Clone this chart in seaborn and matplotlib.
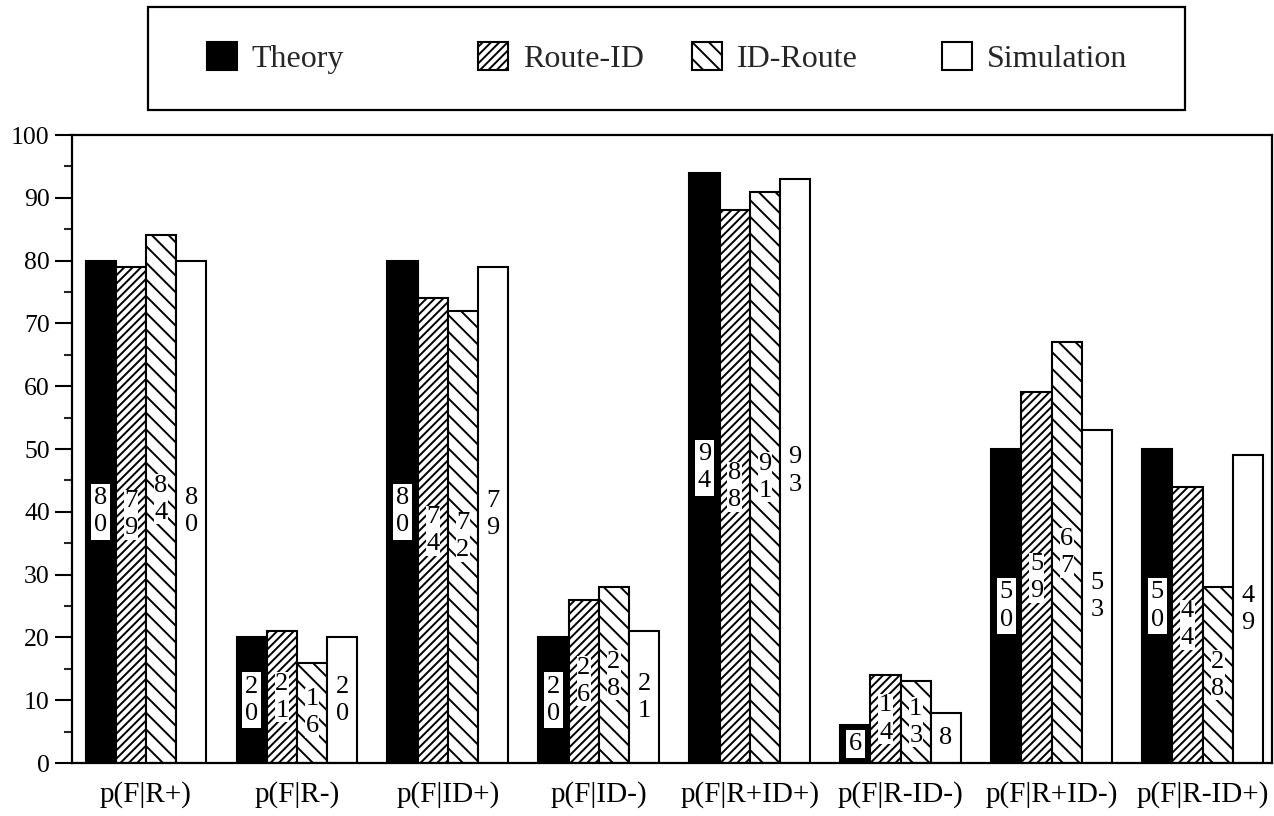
import numpy as np
import pandas as pd
import matplotlib
matplotlib.use("Agg")
import matplotlib.pyplot as plt
import matplotlib.patches as mpatches
import seaborn as sns

# ---- data ----
categories = ["p(F|R+)", "p(F|R-)", "p(F|ID+)", "p(F|ID-)",
              "p(F|R+ID+)", "p(F|R-ID-)", "p(F|R+ID-)", "p(F|R-ID+)"]
methods = ["Theory", "Route-ID", "ID-Route", "Simulation"]
theory = [80, 20, 80, 20, 94, 6, 50, 50]
route_id = [79, 21, 74, 26, 88, 14, 59, 44]
id_route = [84, 16, 72, 28, 91, 13, 67, 28]
simulation = [80, 20, 79, 21, 93, 8, 53, 49]
y_ticks = list(range(0, 101, 10))

df = pd.DataFrame({
    "condition": categories * 4,
    "method": np.repeat(methods, len(categories)),
    "value": theory + route_id + id_route + simulation,
})

sns.set_style("white")
plt.rcParams["font.family"] = ["Liberation Serif", "DejaVu Serif"]
plt.rcParams["hatch.linewidth"] = 1.4

palette = {"Theory": "black", "Route-ID": "white", "ID-Route": "white", "Simulation": "white"}
hatches = {"Theory": "", "Route-ID": "////", "ID-Route": "\\\\", "Simulation": ""}

W, H = 1274, 816
fig = plt.figure(figsize=(W / 100, H / 100), dpi=100)
fig.patch.set_facecolor("white")
ax = fig.add_axes([72 / W, 1 - 763 / H, 1200 / W, 628 / H])

sns.barplot(data=df, x="condition", y="value", hue="method", order=categories,
            hue_order=methods, palette=palette, saturation=1, width=0.8,
            edgecolor="black", linewidth=1.5, errorbar=None, legend=False, ax=ax)

for cont, m in zip(ax.containers, methods):
    for bar in cont:
        bar.set_hatch(hatches[m])
        bar.set_edgecolor("black")
        h = bar.get_height()
        txt = "\n".join(str(int(round(h))))
        kw = {}
        if m == "Theory":
            kw["bbox"] = dict(boxstyle="square,pad=0.12", fc="white", ec="none")
        elif m in ("Route-ID", "ID-Route"):
            kw["bbox"] = dict(boxstyle="square,pad=0.02", fc="white", ec="none")
        ax.text(bar.get_x() + bar.get_width() / 2, h / 2, txt, ha="center", va="center",
                fontsize=19, linespacing=1.3, color="black", **kw)

ax.set_xlim(-0.49, 7.46)
ax.set_ylim(0, 100)
ax.set_yticks(y_ticks)
ax.set_yticks(range(5, 100, 10), minor=True)
ax.set_xlabel("")
ax.set_ylabel("")
ax.tick_params(axis="y", which="major", direction="out", length=12, width=1.5,
               labelsize=18.5, pad=4, left=True, color="black", labelcolor="black")
ax.tick_params(axis="y", which="minor", direction="out", length=6, width=1.5, left=True)
ax.tick_params(axis="x", length=0, labelsize=21, pad=13, labelcolor="black")
for s in ax.spines.values():
    s.set_visible(True)
    s.set_linewidth(1.6)
    s.set_color("black")

# legend: one entry per position inside a framed box
legend_x_px = [207, 478, 692, 942]
for m, xp in zip(methods, legend_x_px):
    handle = mpatches.Patch(facecolor=palette[m], edgecolor="black", hatch=hatches[m],
                            linewidth=1.5, label=m)
    fig.legend(handles=[handle], loc="center left",
               bbox_to_anchor=(xp / W, 1 - 58 / H),
               frameon=False, fontsize=23,
               handlelength=0.95, handleheight=0.95, handletextpad=0.45,
               borderpad=0, borderaxespad=0)
frame = mpatches.Rectangle((148 / W, 1 - 110 / H), 1037 / W, 103 / H,
                           transform=fig.transFigure, fill=False,
                           edgecolor="black", linewidth=1.6)
fig.add_artist(frame)

fig.savefig("out.png", dpi=100)
